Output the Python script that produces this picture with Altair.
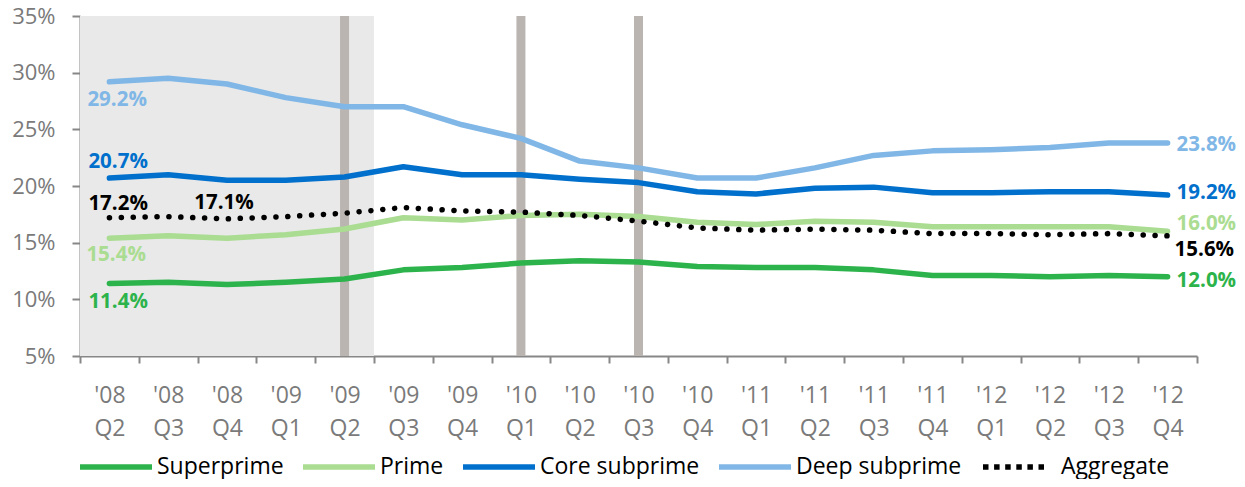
import json
import altair as alt
import pandas as pd

# ---------------- data ----------------
years = ["'08", "'08", "'08", "'09", "'09", "'09", "'09", "'10", "'10", "'10",
         "'10", "'11", "'11", "'11", "'11", "'12", "'12", "'12", "'12"]
quarters = ["Q2", "Q3", "Q4", "Q1", "Q2", "Q3", "Q4", "Q1", "Q2", "Q3",
            "Q4", "Q1", "Q2", "Q3", "Q4", "Q1", "Q2", "Q3", "Q4"]

series_names = ["Superprime", "Prime", "Core subprime", "Deep subprime", "Aggregate"]

superprime = [11.4, 11.5, 11.3, 11.5, 11.8, 12.6, 12.8, 13.2, 13.4, 13.3,
              12.9, 12.8, 12.8, 12.6, 12.1, 12.1, 12.0, 12.1, 12.0]
prime = [15.4, 15.6, 15.4, 15.7, 16.2, 17.2, 17.0, 17.4, 17.5, 17.3,
         16.8, 16.6, 16.9, 16.8, 16.4, 16.4, 16.4, 16.4, 16.0]
core_subprime = [20.7, 21.0, 20.5, 20.5, 20.8, 21.7, 21.0, 21.0, 20.6, 20.3,
                 19.5, 19.3, 19.8, 19.9, 19.4, 19.4, 19.5, 19.5, 19.2]
deep_subprime = [29.2, 29.5, 29.0, 27.8, 27.0, 27.0, 25.4, 24.2, 22.2, 21.6,
                 20.7, 20.7, 21.6, 22.7, 23.1, 23.2, 23.4, 23.8, 23.8]
aggregate = [17.2, 17.3, 17.1, 17.3, 17.6, 18.1, 17.8, 17.7, 17.4, 16.9,
             16.3, 16.1, 16.2, 16.1, 15.8, 15.8, 15.7, 15.8, 15.6]

# quarters marked with vertical bars ('09 Q2, '10 Q1, '10 Q3)
marked_quarters = [4, 7, 9]
# shaded period: '08 Q2 through '09 Q2
shade_first, shade_last = 0, 4

y_ticks = [5, 10, 15, 20, 25, 30, 35]

# ---------------- styling ----------------
FONT = "Open Sans"
AXIS_GRAY = "#878787"
LABEL_GRAY = "#7a7a7a"
colors = ["#2db34b", "#aadc91", "#0070cc", "#80b7e6", "#000000"]
W, H = 1117, 340

all_values = [superprime, prime, core_subprime, deep_subprime, aggregate]
rows = []
for name, vals in zip(series_names[:4], all_values[:4]):
    for i, v in enumerate(vals):
        rows.append({"idx": i, "series": name, "value": v})
df = pd.DataFrame(rows)
agg_df = pd.DataFrame({"idx": list(range(len(aggregate))), "series": "Aggregate",
                       "value": aggregate})

n = len(quarters)
x_scale = alt.Scale(domain=[-0.5, n - 0.5], nice=False, zero=False)
y_scale = alt.Scale(domain=[y_ticks[0], y_ticks[-1]], nice=False, zero=False)

label_expr = f"[{json.dumps(years)}[datum.value], {json.dumps(quarters)}[datum.value]]"

x_axis_labels = alt.Axis(
    orient="bottom", values=list(range(n)), labelExpr=label_expr, ticks=False,
    domain=True, domainColor=AXIS_GRAY, domainWidth=2, grid=False, title=None,
    labelFont=FONT, labelFontSize=23, labelColor=LABEL_GRAY, labelPadding=28,
    labelLineHeight=33, labelAngle=0, labelOverlap=False, labelFlush=False,
)
x_axis_ticks = alt.Axis(
    orient="bottom", values=[i - 0.5 for i in range(n + 1)], labels=False,
    domain=False, ticks=True, tickSize=7, tickColor=AXIS_GRAY, tickWidth=2,
    grid=False, title=None,
)
y_axis = alt.Axis(
    values=y_ticks, labelExpr="datum.value + '%'", tickSize=8, tickColor=AXIS_GRAY,
    tickWidth=2, domainColor=AXIS_GRAY, domainWidth=2, grid=False, title=None,
    labelFont=FONT, labelFontSize=22, labelColor=LABEL_GRAY, labelPadding=17,
    labelFlush=False, labelOverlap=False,
)

legend_common = dict(
    orient="none", direction="horizontal", title=None,
    labelFont=FONT, labelFontSize=23, labelColor="black", labelLimit=400,
)
legend_main = alt.Legend(
    legendX=-3, legendY=412, columns=4, symbolType="stroke", symbolSize=5184,
    symbolStrokeWidth=5.5, labelOffset=2, columnPadding=8, **legend_common,
)
legend_agg = alt.Legend(
    legendX=900, legendY=417.5, symbolType="stroke", symbolSize=3721,
    symbolStrokeWidth=5.5, labelOffset=14, **legend_common,
)

# shaded period
shade_df = pd.DataFrame({"x": [shade_first - 0.5], "x2": [shade_last + 0.5],
                         "y": [y_ticks[-1]], "y2": [y_ticks[0]]})
shade = alt.Chart(shade_df).mark_rect(color="#e9e9e9").encode(
    x=alt.X("x:Q", scale=x_scale, axis=x_axis_ticks),
    x2="x2:Q",
    y=alt.Y("y:Q", scale=y_scale, axis=y_axis),
    y2="y2:Q",
)

bars = alt.Chart(pd.DataFrame({"idx": marked_quarters})).mark_rule(
    color="#bbb5b1", strokeWidth=9
).encode(x=alt.X("idx:Q", scale=x_scale, axis=None))

lines = alt.Chart(df).mark_line(strokeWidth=5.5, strokeCap="round", strokeJoin="round").encode(
    x=alt.X("idx:Q", scale=x_scale, axis=x_axis_labels),
    y=alt.Y("value:Q", scale=y_scale, axis=y_axis),
    color=alt.Color("series:N", scale=alt.Scale(domain=series_names[:4], range=colors[:4]),
                    legend=legend_main),
    order=alt.Order("idx:Q"),
)

# dotted aggregate line (round dots)
agg_line = alt.Chart(agg_df).mark_line(
    strokeWidth=5.5, strokeCap="round", color="black", strokeDash=[0.1, 11.8]
).encode(
    x=alt.X("idx:Q", scale=x_scale, axis=None),
    y=alt.Y("value:Q", scale=y_scale, axis=y_axis),
    order=alt.Order("idx:Q"),
)

# legend entry for the aggregate (a one-point line draws nothing on the plot)
agg_key = alt.Chart(agg_df.head(1)).mark_line(strokeWidth=5.5, color="black").encode(
    x=alt.X("idx:Q", scale=x_scale, axis=None),
    y=alt.Y("value:Q", scale=y_scale, axis=y_axis),
    strokeDash=alt.StrokeDash("series:N",
                              scale=alt.Scale(domain=["Aggregate"], range=[[5.5, 5.6]]),
                              legend=legend_agg),
)

# value labels: (series index, point index, dx, dy, align)
label_specs = [
    (3, 0, -22, 18, "left"),
    (2, 0, -21, -16, "left"),
    (4, 0, -21, -14, "left"),
    (4, 2, -3, -16, "center"),
    (1, 0, -23, 17, "left"),
    (0, 0, -21, 19, "left"),
    (3, n - 1, 9, 2, "left"),
    (2, n - 1, 9, -2, "left"),
    (1, n - 1, 9, -7, "left"),
    (4, n - 1, 7, 14, "left"),
    (0, n - 1, 9, 4, "left"),
]
texts = []
for s, i, dx, dy, align in label_specs:
    v = all_values[s][i]
    tdf = pd.DataFrame({"idx": [i], "value": [v], "label": [f"{v:.1f}%"]})
    texts.append(
        alt.Chart(tdf).mark_text(
            font=FONT, fontSize=20.5, fontWeight="bold", color=colors[s],
            align=align, baseline="middle", dx=dx, dy=dy,
        ).encode(
            x=alt.X("idx:Q", scale=x_scale, axis=None),
            y=alt.Y("value:Q", scale=y_scale, axis=y_axis),
            text="label:N",
        )
    )

chart = alt.layer(shade, bars, lines, agg_line, agg_key, *texts).resolve_axis(
    x="independent"
).properties(
    width=W, height=H,
    padding={"left": 72, "top": 8, "right": 40, "bottom": 123},
    autosize=alt.AutoSizeParams(type="none"),
    background="white",
).configure_view(stroke=None)

chart.save("out.html", embed_options={"renderer": "svg", "actions": False})
